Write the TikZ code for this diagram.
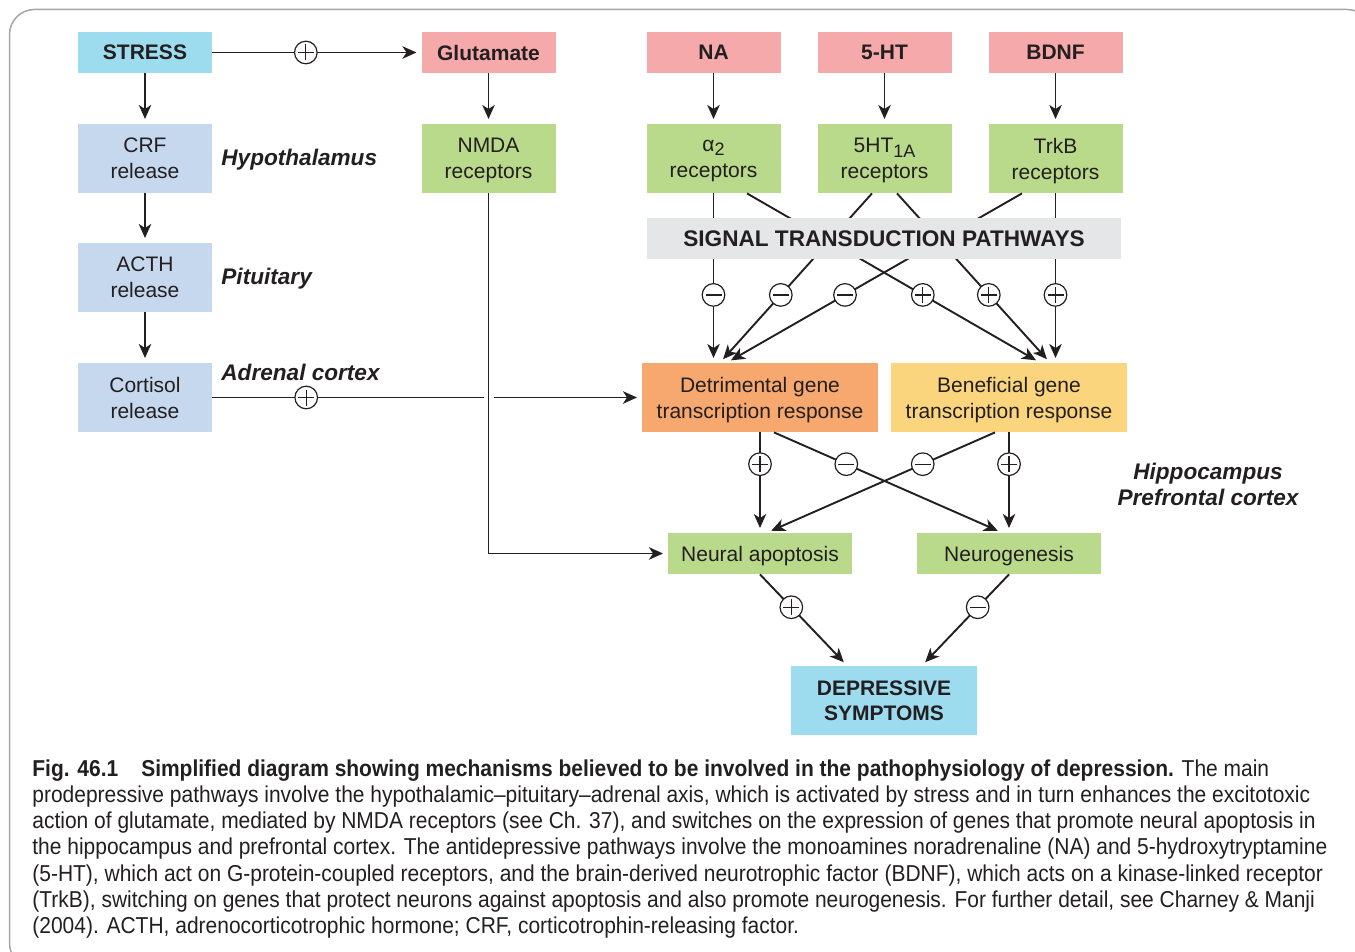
\documentclass[tikz,border=0pt]{standalone}
\usepackage{fontspec}
\setmainfont{Liberation Sans}
\newfontfamily\capfont[FakeStretch=0.912]{Liberation Sans}
\usetikzlibrary{arrows.meta,calc}
\definecolor{ink}{HTML}{231F20}
\definecolor{cyanb}{HTML}{9DDBEE}
\definecolor{pinkb}{HTML}{F6A9AA}
\definecolor{blueb}{HTML}{C5D8EE}
\definecolor{greenb}{HTML}{B9D98B}
\definecolor{greyb}{HTML}{E5E6E7}
\definecolor{orangeb}{HTML}{F7A86E}
\definecolor{yellowb}{HTML}{FBD57E}
\definecolor{framec}{HTML}{A6A6A6}
\newcommand\nodefnt{\fontsize{10.5}{13}\selectfont}
\newcommand\nodebf{\fontsize{10.5}{12.5}\selectfont\bfseries}
\newcommand\regfnt{\fontsize{11.3}{13}\selectfont\bfseries\itshape}
\newcommand\capfnt{\capfont\fontsize{11.5}{13.15}\selectfont}
\newcommand\lowsub[1]{\smash{\raisebox{-0.4ex}{\fontsize{9}{9}\selectfont #1}}}
\tikzset{
  bx/.style={fill=#1, inner sep=0pt, align=center, text=ink, font=\nodefnt, text depth=0pt},
  big/.style={minimum width=67pt, minimum height=34.5pt},
  small/.style={minimum width=67pt, minimum height=20.5pt},
  ln/.style={draw=ink, line width=0.95pt},
  arr/.style={ln, -{Stealth[length=7pt,width=6.2pt,inset=2pt]}, shorten >=2.3pt},
  sgnbar/.style={draw=ink, line width=0.6pt, -, shorten >=0pt, shorten <=0pt},
  sgn/.style={circle, draw=ink, fill=white, minimum size=11.3pt, inner sep=0pt, line width=0.6pt},
  psign/.style={sgn, path picture={
      \draw[sgnbar] ([xshift=-4pt]path picture bounding box.center) -- ([xshift=4pt]path picture bounding box.center);
      \draw[sgnbar] ([yshift=-4pt]path picture bounding box.center) -- ([yshift=4pt]path picture bounding box.center);}},
  msign/.style={sgn, path picture={
      \draw[sgnbar] ([xshift=-4pt]path picture bounding box.center) -- ([xshift=4pt]path picture bounding box.center);}},
  region/.style={text=ink, font=\regfnt, inner sep=0pt},
  capline/.style={anchor=base west, inner sep=0pt, text=ink, font=\capfnt}
}
\begin{document}
\begin{tikzpicture}[x=0.5pt,y=-0.5pt]
\clip (0,0) rectangle (1355,952);
\draw[framec, line width=0.75pt, rounded corners=12.5pt] (9.5,9.5) rectangle (1372,968);

% top row
\node[bx=cyanb, small, font=\nodebf] (stress) at (145,52.5) {STRESS};
\node[bx=pinkb, small, font=\nodebf] (glut) at (488.5,52.5) {Glutamate};
\node[bx=pinkb, small, font=\nodebf] (na) at (713.5,52.5) {NA};
\node[bx=pinkb, small, font=\nodebf] (ht) at (884.5,52.5) {5-HT};
\node[bx=pinkb, small, font=\nodebf] (bdnf) at (1055.5,52.5) {BDNF};

% second row
\node[bx=blueb, big] (crf) at (145,158.5) {CRF\\release};
\node[bx=greenb, big] (nmda) at (488.5,158.5) {NMDA\\receptors};
\node[bx=greenb, big] (a2) at (713.5,158.5) {α\lowsub{2}\\receptors};
\node[bx=greenb, big] (ht1a) at (884.5,158.5) {5HT\lowsub{1A}\\receptors};
\node[bx=greenb, big] (trkb) at (1055.5,158.5) {TrkB\\receptors};

\node[bx=blueb, big] (acth) at (145,277.5) {ACTH\\release};
\node[bx=blueb, big] (cort) at (145,397.5) {Cortisol\\release};

\node[bx=orangeb, minimum width=118pt, minimum height=34.5pt] (det) at (760,397.5) {Detrimental gene\\transcription response};
\node[bx=yellowb, minimum width=118pt, minimum height=34.5pt] (ben) at (1009,397.5) {Beneficial gene\\transcription response};

\node[bx=greenb, minimum width=92pt, minimum height=20.5pt] (napo) at (760,553.5) {Neural apoptosis};
\node[bx=greenb, minimum width=92pt, minimum height=20.5pt] (ngen) at (1009,553.5) {Neurogenesis};

\node[bx=cyanb, minimum width=93pt, minimum height=34.5pt, font=\nodebf] (dep) at (884,700.5) {DEPRESSIVE\\SYMPTOMS};

% region labels
\node[region, anchor=base west] (hyp) at (221,166) {Hypothalamus};
\node[region, anchor=base west] (pit) at (221,285) {Pituitary};
\node[region, anchor=base west] (adr) at (221,380) {Adrenal cortex};
\node[region, align=center, font=\fontsize{11.3}{13}\selectfont\bfseries\itshape] (hip) at (1208,484) {Hippocampus\\Prefrontal cortex};

% left axis
\draw[arr] (stress) -- node[psign, pos=0.4476]{} (glut);
\draw[arr] (stress) -- (crf);
\draw[arr] (crf) -- (acth);
\draw[arr] (acth) -- (cort);
\draw[arr] (glut) -- (nmda);
\draw[arr] (na) -- (a2);
\draw[arr] (ht) -- (ht1a);
\draw[arr] (bdnf) -- (trkb);

\draw[arr] (cort) -- node[psign, pos=0.2186]{} (det);
\fill[white] ($(nmda.south |- cort.east)+(-5,-4)$) rectangle ($(nmda.south |- cort.east)+(5,4)$);
\draw[arr] (nmda) |- (napo);

% receptors to gene responses
\draw[arr] (a2.south) -- node[msign, pos=0.6]{} (det.north -| a2.south);
\draw[arr] ([xshift=16.75pt]a2.south) -- node[psign, pos=0.6]{} ([xshift=15.5pt]ben.north);
\draw[arr] ([xshift=-6.25pt]ht1a.south) -- node[msign, pos=0.6]{} ([xshift=-20pt]det.north);
\draw[arr] ([xshift=6.25pt]ht1a.south) -- node[psign, pos=0.6]{} ([xshift=20.5pt]ben.north);
\draw[arr] ([xshift=-16.75pt]trkb.south) -- node[msign, pos=0.6]{} ([xshift=-16.5pt]det.north);
\draw[arr] (trkb.south) -- node[psign, pos=0.6]{} (ben.north -| trkb.south);

\node[bx=greyb, minimum width=237pt, minimum height=20.5pt, font=\fontsize{11.3}{13}\selectfont\bfseries] (stp) at (884,238.5) {SIGNAL TRANSDUCTION PATHWAYS};

% gene responses to outcomes
\draw[arr] (det.south) -- node[psign, pos=0.317]{} (napo.north);
\draw[arr] ([xshift=7pt]det.south) -- node[msign, pos=0.317]{} ([xshift=-3.5pt]ngen.north);
\draw[arr] ([xshift=-7pt]ben.south) -- node[msign, pos=0.317]{} ([xshift=3.5pt]napo.north);
\draw[arr] (ben.south) -- node[psign, pos=0.317]{} (ngen.north);

\draw[arr] (napo.south) -- node[psign, pos=0.36]{} ([xshift=-18.5pt]dep.north);
\draw[arr] (ngen.south) -- node[msign, pos=0.36]{} ([xshift=19pt]dep.north);

% caption
\node[capline] (c1) at (32,776) {\textbf{Fig. 46.1}\quad\textbf{Simplified diagram showing mechanisms believed to be involved in the pathophysiology of depression.} The main};
\node[capline] (c2) at (32,802.3) {prodepressive pathways involve the hypothalamic–pituitary–adrenal axis, which is activated by stress and in turn enhances the excitotoxic};
\node[capline] (c3) at (32,828.6) {action of glutamate, mediated by NMDA receptors (see Ch. 37), and switches on the expression of genes that promote neural apoptosis in};
\node[capline] (c4) at (32,854.9) {the hippocampus and prefrontal cortex. The antidepressive pathways involve the monoamines noradrenaline (NA) and 5-hydroxytryptamine};
\node[capline] (c5) at (32,881.2) {(5-HT), which act on G-protein-coupled receptors, and the brain-derived neurotrophic factor (BDNF), which acts on a kinase-linked receptor};
\node[capline] (c6) at (32,907.5) {(TrkB), switching on genes that protect neurons against apoptosis and also promote neurogenesis. For further detail, see Charney \& Manji};
\node[capline] (c7) at (32,933.8) {(2004). ACTH, adrenocorticotrophic hormone; CRF, corticotrophin-releasing factor.};
\end{tikzpicture}
\end{document}
